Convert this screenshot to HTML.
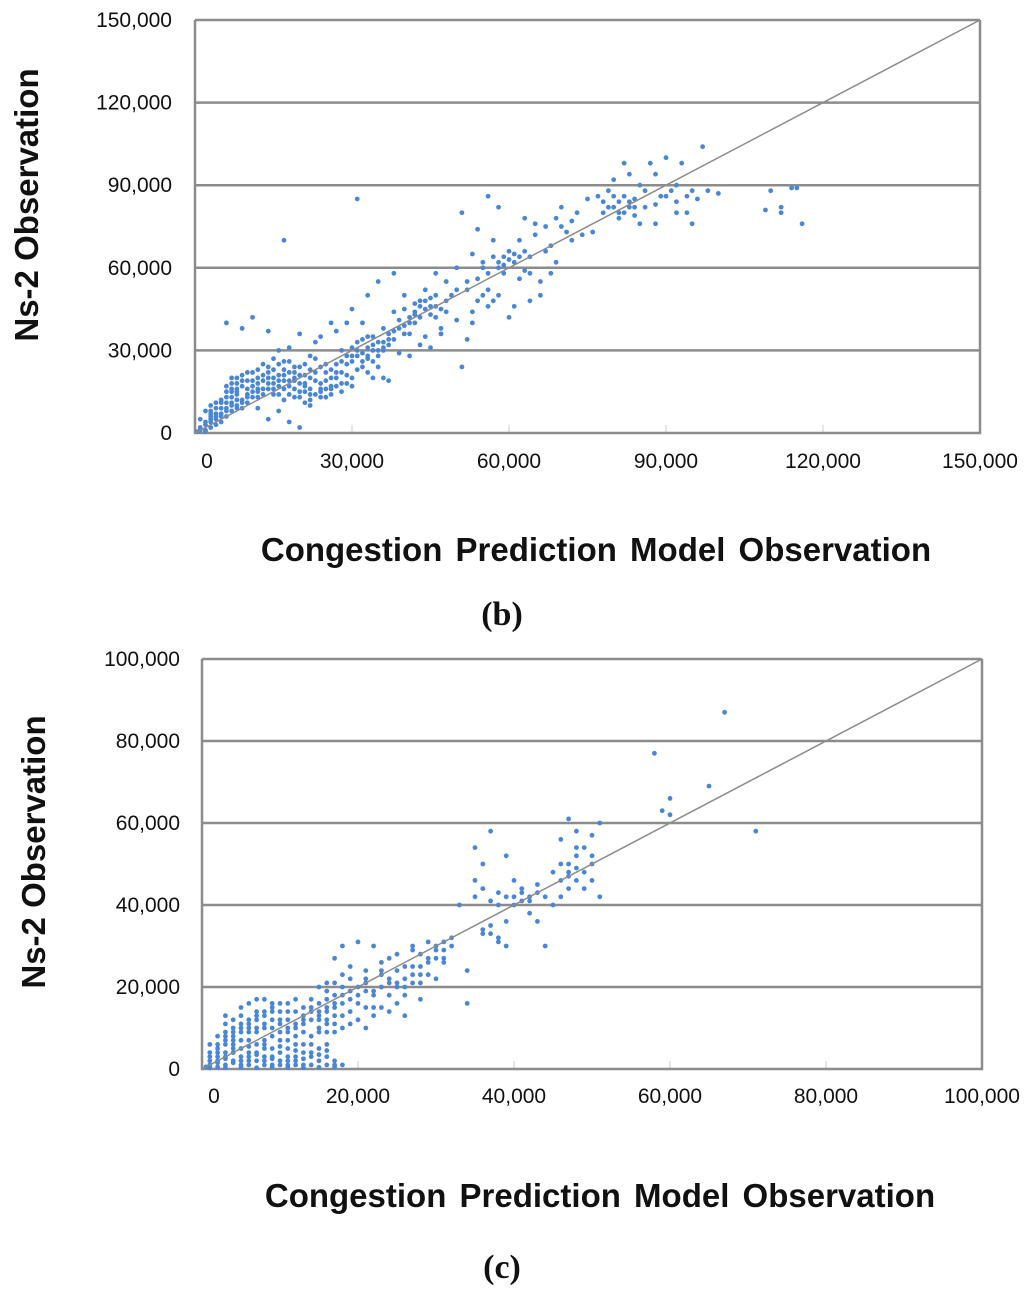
<!DOCTYPE html>
<html><head><meta charset="utf-8"><style>
body{margin:0;background:#fff;width:1024px;height:1295px;overflow:hidden}
svg text{font-family:"Liberation Sans","DejaVu Sans",sans-serif;fill:#111}
</style></head><body>
<svg id="svg" width="1024" height="1295">
<g id="chartB"></g>
<g id="chartC"></g>
<text x="596" y="561" text-anchor="middle" font-size="33" font-weight="bold" word-spacing="4">Congestion Prediction Model Observation</text>
<text transform="translate(38,205) rotate(-90)" text-anchor="middle" font-size="33" font-weight="bold">Ns-2 Observation</text>
<text x="502" y="625" text-anchor="middle" font-size="34" font-weight="bold" style="font-family:'Liberation Serif',serif">(b)</text>
<text x="600" y="1207" text-anchor="middle" font-size="33" font-weight="bold" word-spacing="4">Congestion Prediction Model Observation</text>
<text transform="translate(45,852) rotate(-90)" text-anchor="middle" font-size="33" font-weight="bold">Ns-2 Observation</text>
<text x="502" y="1278" text-anchor="middle" font-size="34" font-weight="bold" style="font-family:'Liberation Serif',serif">(c)</text>
</svg>
<script>
const bTicks=[0,30000,60000,90000,120000,150000];
const bTickLabels=["0","30,000","60,000","90,000","120,000","150,000"];
const bPoints=[[1,1],[2,3],[1,5],[3,2],[4,6],[2,8],[5,4],[6,9],[3,10],[5,12],[7,8],[8,14],[4,7],[6,15],[7,18],[9,12],[8,20],[10,16],[0.5,0.5],[2,0.5],[3,4],[5,7],[6,11],[7,13],[8,10],[9,17],[10,19],[11,22],[12,18],[13,25],[14,20],[15,23],[16,17],[17,21],[18,26],[19,19],[20,24],[21,15],[22,20],[23,27],[24,18],[25,22],[26,14],[27,25],[28,30],[29,21],[30,28],[31,33],[32,26],[33,35],[34,30],[35,24],[36,38],[37,32],[38,44],[39,29],[40,45],[41,36],[42,40],[43,48],[44,35],[45,43],[46,50],[47,38],[48,55],[13,14],[15,16],[17,12],[19,13],[21,11],[16,8],[18,4],[20,2],[22,10],[14,5],[12,9],[25,16],[28,18],[30,17],[6,40],[9,38],[11,42],[14,37],[17,70],[31,85],[16,30],[20,36],[23,33],[35,55],[33,50],[38,58],[40,50],[30,45],[26,40],[36,20],[37,19],[33,22],[34,20],[43,32],[45,31],[47,36],[41,28],[24,35],[27,37],[22,28],[18,31],[29,40],[32,40],[42,47],[44,52],[46,58],[48,44],[50,60],[51,80],[52,55],[53,65],[54,48],[55,60],[56,52],[57,70],[58,62],[59,58],[60,66],[61,46],[62,70],[63,59],[64,64],[65,72],[66,55],[67,75],[68,68],[69,78],[70,82],[71,73],[72,77],[56,86],[58,82],[54,74],[53,44],[51,24],[52,34],[55,50],[57,48],[62,56],[64,48],[66,50],[68,58],[60,42],[63,78],[65,76],[67,66],[59,64],[61,62],[73,80],[74,72],[75,85],[78,80],[79,88],[80,92],[81,78],[82,98],[83,84],[84,79],[85,90],[86,82],[87,98],[88,94],[89,86],[90,100],[91,88],[92,84],[93,98],[94,80],[95,88],[96,85],[97,104],[98,88],[100,87],[110,88],[112,82],[114,89],[116,76],[109,81],[112,80],[115,89],[77,86],[79,82],[81,84],[83,94],[85,76],[88,76],[92,80],[95,76],[84,82],[82,80],[80,86],[76,73],[72,70],[70,75],[69,62],[64,58],[58,50],[56,46],[53,40],[50,41],[6,17],[7,15],[8,16],[9,19],[10,14],[11,17],[12,20],[13,19],[14,22],[15,18],[16,21],[17,19],[18,17],[19,22],[20,18],[21,21],[22,16],[23,19],[24,15],[25,19],[26,20],[27,17],[15,27],[17,26],[19,24],[21,25],[11,13],[12,15],[14,16],[16,14],[18,14],[20,13],[22,14],[24,13],[26,17],[28,22],[29,25],[30,26],[31,28],[32,29],[33,31],[34,32],[35,30],[36,33],[37,36],[38,34],[39,38],[40,36],[41,40],[42,43],[43,42],[44,45],[45,46],[46,42],[47,45],[48,48],[1,2],[2,1],[3,6],[4,3],[5,9],[4,11],[3,7],[6,6],[7,11],[8,12],[9,9],[10,11],[7,20],[8,18],[9,21],[10,22],[11,19],[12,23],[13,21],[14,24],[15,20],[16,25],[17,23],[18,22],[19,20],[20,21],[21,18],[22,23],[23,22],[24,24],[25,25],[26,23],[27,22],[28,26],[29,28],[30,31],[31,30],[32,34],[33,28],[34,35],[35,33],[36,31],[37,34],[38,37],[39,41],[40,39],[41,42],[42,44],[43,46],[44,48],[45,49],[46,46],[12,13],[13,16],[14,18],[15,14],[16,19],[17,16],[18,19],[19,16],[20,15],[21,17],[22,12],[23,14],[24,16],[25,13],[26,16],[27,20],[28,15],[29,18],[30,20],[31,23],[32,24],[33,27],[34,26],[35,28],[36,30],[2,4],[3,5],[4,5],[5,6],[6,8],[7,10],[8,9],[9,11],[10,13],[11,15],[12,16],[3,8],[4,9],[5,11],[6,13],[7,16],[8,15],[55,62],[57,64],[59,61],[60,63],[61,65],[62,64],[63,66],[58,60],[56,58],[54,56],[52,52],[50,52],[49,50],[81,80],[83,82],[82,86],[84,85],[80,82],[78,84],[86,88],[88,83],[90,86],[92,90],[94,86]];
const cTicks=[0,20000,40000,60000,80000,100000];
const cTickLabels=["0","20,000","40,000","60,000","80,000","100,000"];
const cPoints=[[1,1],[2,3],[1,6],[3,1],[4,5],[2,8],[5,2],[6,9],[3,11],[5,13],[7,6],[8,14],[4,7],[6,16],[7,17],[9,12],[8,3],[10,16],[0.5,0.5],[2,0.5],[3,4],[5,7],[6,11],[7,13],[8,10],[9,5],[10,9],[11,14],[12,3],[13,11],[14,8],[15,12],[16,6],[17,2],[18,1],[12,17],[13,15],[14,17],[15,16],[16,14],[17,13],[11,7],[10,4],[9,1],[8,7],[7,2],[6,4],[5,10],[4,12],[3,9],[4,2],[6,1],[11,1],[13,1],[15,2],[16,1],[17,1],[14,1],[12,11],[10,12],[9,15],[8,17],[11,10],[13,6],[15,5],[16,9],[2,5],[3,7],[4,9],[5,5],[6,7],[7,9],[8,5],[9,8],[10,7],[11,5],[12,8],[13,4],[14,4],[15,9],[16,11],[17,9],[1,3],[2,2],[3,3],[4,4],[5,1],[6,3],[7,4],[8,1],[9,3],[10,2],[11,3],[12,6],[14,12],[16,17],[18,16],[19,14],[18,20],[19,25],[20,18],[21,22],[22,30],[23,20],[24,27],[25,16],[26,22],[27,29],[28,25],[29,31],[30,27],[31,29],[32,32],[20,12],[21,15],[22,18],[23,15],[24,21],[25,24],[26,18],[27,21],[28,17],[29,23],[30,22],[31,26],[17,27],[18,30],[20,31],[19,11],[21,10],[22,13],[24,14],[26,13],[28,21],[30,30],[16,21],[15,20],[17,18],[34,16],[34,24],[35,54],[36,50],[37,33],[38,32],[37,58],[38,40],[39,30],[39,36],[40,42],[41,44],[42,38],[43,45],[44,30],[45,40],[46,42],[47,48],[48,52],[47,61],[48,58],[49,54],[50,50],[50,46],[51,42],[51,60],[46,56],[45,48],[44,42],[42,41],[40,46],[36,33],[35,46],[36,44],[39,52],[41,43],[43,36],[48,46],[49,44],[50,57],[47,44],[46,50],[58,77],[60,62],[60,66],[59,63],[65,69],[67,87],[71,58],[3,13],[5,15],[7,10],[9,14],[11,12],[13,9],[15,14],[17,16],[19,17],[21,19],[23,23],[25,20],[27,25],[29,27],[31,31],[33,40],[35,42],[1,2],[2,4],[3,6],[4,8],[5,9],[6,10],[7,12],[8,11],[9,10],[10,11],[11,9],[12,10],[13,12],[14,14],[15,10],[16,12],[17,11],[1,4],[2,6],[3,8],[4,10],[5,11],[6,12],[7,14],[8,13],[9,16],[10,14],[11,16],[12,14],[13,13],[14,15],[15,13],[16,15],[17,15],[18,13],[18,10],[1,0.3],[3,0.3],[5,0.4],[7,0.3],[9,0.5],[11,0.4],[13,0.3],[15,0.4],[17,0.5],[2,1.5],[4,1.5],[6,2],[8,2],[10,1],[12,2],[14,3],[16,3],[3,2.5],[5,3],[7,3.5],[9,2.5],[11,2],[13,2.5],[15,3.5],[12,1],[10,5.5],[8,6],[6,5.5],[4,6],[12,4.5],[14,6],[16,4.5],[18,18],[19,19],[20,20],[21,21],[22,19],[23,24],[24,22],[25,21],[26,25],[27,23],[28,28],[29,26],[30,29],[31,27],[32,30],[20,16],[22,15],[24,18],[26,20],[28,23],[19,22],[21,24],[23,26],[25,28],[27,30],[18,23],[17,21],[16,19],[37,41],[38,43],[39,42],[40,40],[41,41],[42,42],[43,43],[46,46],[47,47],[48,49],[49,48],[50,52],[47,50],[48,54],[36,34],[37,35],[38,31]];
const NS='http://www.w3.org/2000/svg';
function mk(parent,tag,attrs){const e=document.createElementNS(NS,tag);for(const k in attrs)e.setAttribute(k,attrs[k]);parent.appendChild(e);return e;}
function draw(gid,L,R,T,B,max,ticks,labels,points,xLabelY,yLabelX,suffix){
  const g=document.getElementById(gid);
  const sx=v=>L+(v/max)*(R-L), sy=v=>B-(v/max)*(B-T);
  ticks.forEach((t,i)=>{
    if(t>0){const l=mk(g,'line',{x1:L,x2:R,y1:sy(t),y2:sy(t),stroke:'#8c8c8c','stroke-width':2.5});
    
    }
    const ty=mk(g,'text',{x:yLabelX,y:sy(t)+7,'text-anchor':'end','font-size':21});
    ty.textContent=labels[i];
    
    
    const tx=mk(g,'text',{x:sx(t)+(i==0?12:0),y:xLabelY,'text-anchor':'middle','font-size':21});
    tx.textContent=labels[i];
    
    
    if(t>0){const tk=mk(g,'line',{x1:sx(t),x2:sx(t),y1:B,y2:B-8,stroke:'#ccc','stroke-width':1});
    
    }
  });
  const ax=mk(g,'path',{d:`M${L} ${T}V${B}H${R}V${T}`,fill:'none',stroke:'#8c8c8c','stroke-width':2.5});
  
  
  points.forEach((p,i)=>{
    const c=mk(g,'circle',{cx:sx(p[0]*1000),cy:sy(p[1]*1000),r:2.4,fill:'#4a86d8'});
    
    
  });
  const d=mk(g,'line',{x1:sx(0),y1:sy(0),x2:sx(max),y2:sy(max),stroke:'#8c8c8c','stroke-width':1.5});
  
  
}
draw('chartB',195,980,20,433,150000,bTicks,bTickLabels,bPoints,468,172,'b');
draw('chartC',202,982,659,1069,100000,cTicks,cTickLabels,cPoints,1103,180,'c');
</script>
</body></html>
